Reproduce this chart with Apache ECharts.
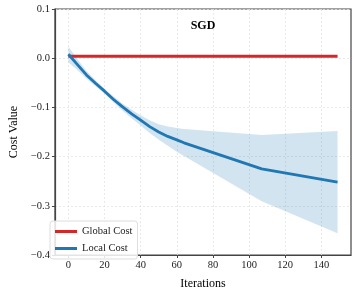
<!DOCTYPE html>
<html>
<head>
<meta charset="utf-8">
<script src="https://cdn.jsdelivr.net/npm/echarts@6/dist/echarts.min.js"></script>
<style>html,body{margin:0;padding:0;background:#fff}#c{width:357px;height:295px}</style>
</head>
<body>
<div id="c"></div>
<script>
var iterations = [0, 5, 10, 15, 20, 25, 30, 35, 40, 45, 50, 55, 60, 64, 107, 149];
var localCost  = [0.008, -0.013, -0.034, -0.051, -0.067, -0.084, -0.099, -0.113, -0.126, -0.139, -0.150, -0.159, -0.166, -0.172, -0.225, -0.252];
var bandUpper  = [0.024, -0.002, -0.026, -0.045, -0.062, -0.078, -0.092, -0.105, -0.116, -0.126, -0.134, -0.139, -0.142, -0.144, -0.156, -0.148];
var bandLower  = [-0.008, -0.024, -0.042, -0.057, -0.072, -0.090, -0.107, -0.122, -0.137, -0.152, -0.166, -0.178, -0.190, -0.199, -0.291, -0.356];
var globalIter = [0, 149];
var globalCost = [0.004, 0.004];
var xTicks = [0, 20, 40, 60, 80, 100, 120, 140];

var serif = '"Liberation Serif", "DejaVu Serif", serif';
function pairs(xs, ys) { return xs.map(function (x, i) { return [x, ys[i]]; }); }
var bandData = iterations.map(function (x, i) { return [x, bandUpper[i], bandLower[i]]; });

function renderBand(params, api) {
  if (params.dataIndex !== 0) return null;
  var pts = [];
  for (var i = 0; i < iterations.length; i++) pts.push(api.coord([iterations[i], bandUpper[i]]));
  for (var j = iterations.length - 1; j >= 0; j--) pts.push(api.coord([iterations[j], bandLower[j]]));
  return {type: 'polygon', shape: {points: pts}, style: {fill: 'rgba(31,119,180,0.2)', stroke: 'none'}, silent: true};
}

var chart = echarts.init(document.getElementById('c'), null, {renderer: 'canvas'});
chart.setOption({
  animation: false,
  backgroundColor: '#fff',
  title: {
    text: 'SGD', left: 198, top: 15, textAlign: 'center',
    textStyle: {fontFamily: serif, fontWeight: 'bold', fontSize: 12, color: '#000'}
  },
  grid: {left: 45, right: 6, top: 9, bottom: 37, show: true, borderColor: '#444', borderWidth: 1.2, backgroundColor: 'transparent'},
  legend: {
    left: 50, top: 221, orient: 'vertical', itemWidth: 22, itemHeight: 3, itemGap: 6,
    padding: [5, 5, 5, 5], borderColor: '#ddd', borderWidth: 1, borderRadius: 3,
    backgroundColor: 'rgba(255,255,255,0.85)',
    data: [{name: 'Global Cost', icon: 'rect'}, {name: 'Local Cost', icon: 'rect'}],
    textStyle: {fontFamily: serif, fontSize: 10.5, color: '#222'}
  },
  xAxis: {
    type: 'value', min: -7.45, max: 156.45,
    name: 'Iterations', nameLocation: 'middle', nameGap: 23,
    nameTextStyle: {fontFamily: serif, fontSize: 12, color: '#000'},
    axisLine: {show: true, onZero: false, lineStyle: {color: '#444', width: 1.2}},
    axisTick: {show: true, length: 3, lineStyle: {color: '#444'}, customValues: xTicks},
    axisLabel: {fontFamily: serif, fontSize: 10.5, color: '#222', margin: 5, customValues: xTicks},
    splitLine: {show: true, lineStyle: {color: '#e4e4e4', type: [2, 2], width: 0.8}}
  },
  yAxis: {
    type: 'value', min: -0.4, max: 0.1, interval: 0.1,
    name: 'Cost Value', nameLocation: 'middle', nameGap: 31,
    nameTextStyle: {fontFamily: serif, fontSize: 12, color: '#000'},
    axisLine: {show: true, onZero: false, lineStyle: {color: '#444', width: 1.2}},
    axisTick: {show: true, length: 3, lineStyle: {color: '#444'}},
    axisLabel: {
      fontFamily: serif, fontSize: 10.5, color: '#222', margin: 5,
      formatter: function (v) { var s = (Math.abs(v) < 1e-9 ? 0 : v).toFixed(1); return s.replace('-', '\u2212'); }
    },
    splitLine: {show: true, lineStyle: {color: '#e4e4e4', type: [2, 2], width: 0.8}}
  },
  series: [
    {
      name: 'band', type: 'custom', data: bandData, renderItem: renderBand,
      encode: {x: 0, y: [1, 2]}, silent: true, z: 1
    },
    {
      name: 'Global Cost', type: 'line', data: pairs(globalIter, globalCost), symbol: 'none',
      itemStyle: {color: '#d62728'}, lineStyle: {color: '#d62728', width: 2.8}, z: 3
    },
    {
      name: 'Local Cost', type: 'line', data: pairs(iterations, localCost), symbol: 'none',
      itemStyle: {color: '#1f77b4'}, lineStyle: {color: '#1f77b4', width: 2.8}, z: 4
    }
  ]
});
</script>
</body>
</html>
